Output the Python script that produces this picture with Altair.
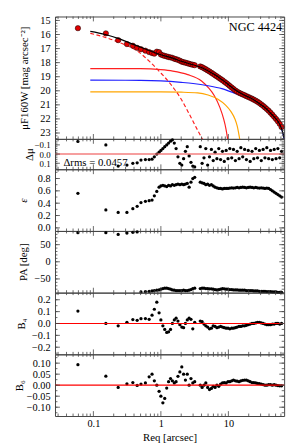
import altair as alt
import numpy as np
import pandas as pd

# ---- isophote radii (arcsec) and profiles ----
R = [0.059, 0.153, 0.233, 0.314, 0.384, 0.445, 0.507, 0.59, 0.67, 0.74, 0.80, 0.87, 0.94, 1.0,
     1.07, 1.14, 1.22, 1.30, 1.39, 1.48, 1.58, 1.68, 1.79, 1.91, 2.04, 2.17, 2.31, 2.46, 2.62,
     2.79, 2.97, 3.17, 3.83, 4.08, 4.35, 4.63, 4.93, 5.25, 5.6, 5.96, 6.35, 6.76, 7.2, 7.67,
     8.17, 8.7, 9.27, 9.87, 10.5, 11.2, 11.9, 12.7, 13.5, 14.4, 15.3, 16.3, 17.4, 18.5, 19.7,
     21.0, 22.4, 23.8, 25.4, 27.0, 28.8, 30.7, 32.7, 34.8, 37.1, 39.5, 42.1, 44.8, 47.7, 50.8,
     54.1, 57.6, 61.4]

MU = [15.55, 15.92, 16.40, 16.68, 16.80, 16.95, 17.05, 17.15, 17.25, 17.32, 17.36, 17.22, 17.25, 17.42,
      17.48, 17.52, 17.56, 17.60, 17.63, 17.66, 17.72, 17.76, 17.80, 17.86, 17.93, 17.97, 18.00, 18.04, 18.08,
      18.12, 18.15, 18.18, 18.27, 18.32, 18.40, 18.47, 18.55, 18.63, 18.72, 18.80, 18.90, 18.98, 19.07, 19.16,
      19.25, 19.35, 19.45, 19.55, 19.66, 19.77, 19.87, 19.98, 20.06, 20.14, 20.20, 20.26, 20.32, 20.38, 20.44,
      20.50, 20.56, 20.63, 20.70, 20.78, 20.87, 20.97, 21.07, 21.18, 21.30, 21.42, 21.56, 21.70, 21.85, 22.00,
      22.17, 22.35, 22.58]

DMU = [-0.137, -0.10, 0.13, 0.12, 0.10, 0.095, 0.065, 0.06, 0.06, 0.055, 0.03, 0.0, -0.02, -0.04,
       -0.06, -0.08, -0.10, -0.12, -0.14, -0.155, -0.12, -0.06, 0.03, 0.10, 0.12, 0.05, -0.03, -0.08, 0.02,
       0.09, 0.13, 0.14, -0.08, 0.10, 0.04, -0.06, 0.12, 0.03, -0.05, 0.07, -0.02, 0.05, -0.06, 0.06,
       -0.03, 0.08, -0.04, 0.05, -0.06, 0.04, -0.05, 0.07, -0.03, 0.05, -0.07, 0.03, -0.05, 0.06, -0.04,
       0.08, -0.03, 0.05, -0.06, 0.04, -0.04, 0.07, -0.05, 0.04, -0.07, 0.05, -0.04, 0.06, -0.05, 0.05,
       -0.06, 0.04, -0.03]

ELL = [0.56, 0.29, 0.25, 0.25, 0.31, 0.35, 0.41, 0.43, 0.44, 0.45, 0.52, 0.59, 0.66, 0.68,
       0.69, 0.68, 0.67, 0.69, 0.68, 0.70, 0.69, 0.70, 0.71, 0.70, 0.71, 0.70, 0.71, 0.72, 0.66,
       0.74, 0.80, 0.82, 0.74, 0.73, 0.72, 0.70, 0.71, 0.69, 0.70, 0.68, 0.66, 0.65, 0.64, 0.64,
       0.63, 0.64, 0.64, 0.64, 0.645, 0.65, 0.645, 0.65, 0.655, 0.65, 0.655, 0.66, 0.655, 0.65, 0.655,
       0.66, 0.655, 0.65, 0.655, 0.65, 0.645, 0.65, 0.645, 0.64, 0.645, 0.64, 0.62, 0.60, 0.58, 0.56,
       0.54, 0.52, 0.50]

PA = [85, 85, 80, 84, 86, 87, -88, -87, -86, -85, -84, -83, -82, -80,
      -78, -77, -77, -78, -80, -82, -83, -84, -84, -84, -84, -83, -84, -84, -83,
      -81, -78, -77, -78, -77, -77, -78, -78, -79, -79, -80, -81, -82, -81, -80,
      -78, -79, -80, -80, -81, -81, -82, -82, -82, -83, -83, -83, -83, -84, -84,
      -84, -84, -85, -85, -85, -86, -86, -86, -86, -87, -87, -87, -88, -88, -88,
      -89, -89, -89]

B4 = [0.105, 0.0, -0.02, 0.01, 0.033, 0.027, 0.04, 0.042, 0.035, 0.07, 0.12, 0.18, 0.09, 0.03,
      -0.02, -0.05, -0.075, -0.07, -0.05, 0.0, 0.03, 0.045, 0.02, -0.01, -0.03, -0.035, 0.0, 0.03, 0.045,
      0.035, -0.045, 0.01, 0.02, 0.015, -0.005, -0.02, -0.03, -0.045, -0.04, -0.02, -0.025, -0.035, -0.03, -0.025,
      -0.03, -0.035, -0.04, -0.04, -0.045, -0.04, -0.04, -0.035, -0.03, -0.025, -0.025, -0.02, -0.02, -0.015, -0.01,
      -0.005, 0.0, 0.0, 0.005, 0.01, 0.01, 0.005, 0.0, -0.005, -0.01, -0.01, -0.01, -0.005, -0.005, 0.0,
      0.0, -0.005, 0.0]

B6 = [0.093, 0.041, -0.01, 0.006, 0.012, -0.001, 0.005, 0.01, 0.038, 0.05, 0.02, 0.0, -0.028, -0.05,
      -0.08, -0.06, -0.013, 0.016, 0.03, 0.02, 0.01, 0.016, 0.04, 0.06, 0.083, 0.05, 0.023, 0.05, 0.0,
      0.03, 0.01, 0.016, 0.0, -0.01, 0.0, 0.01, -0.01, -0.02, -0.015, -0.005, -0.01, 0.0, -0.005, 0.005,
      0.01, 0.012, 0.01, 0.016, 0.016, 0.02, 0.023, 0.02, 0.018, 0.016, 0.02, 0.022, 0.023, 0.023, 0.02,
      0.016, 0.012, 0.012, 0.01, 0.008, 0.007, 0.005, 0.003, 0.0, 0.0, 0.002, 0.002, 0.0, 0.002, 0.0,
      -0.002, -0.003, -0.003]

# ---- model curves ----
MODEL_R = [0.09, 0.15, 0.25, 0.4, 0.6, 0.8, 1.0, 1.5, 2.0, 3.0, 4.0, 5.5, 7.0, 8.7, 11, 13.5, 17, 21,
           26, 30, 36, 41, 48, 57, 62, 68]
MODEL_MU = [15.78, 16.0, 16.33, 16.72, 17.05, 17.28, 17.44, 17.68, 17.9, 18.15, 18.35, 18.7, 19.0, 19.33,
            19.72, 20.03, 20.3, 20.5, 20.76, 20.97, 21.26, 21.53, 21.88, 22.34, 22.75, 23.5]
BULGE_R = [0.09, 0.15, 0.25, 0.44, 0.69, 0.96, 1.38, 2.0, 2.8, 3.5, 4.3]
BULGE_MU = [15.92, 16.2, 16.6, 17.15, 17.95, 18.65, 19.5, 20.6, 21.9, 22.8, 23.6]
BAR_R = [0.09, 0.5, 1.0, 1.5, 2.5, 4.0, 5.0, 6.2, 7.5, 8.5, 9.2, 9.8]
BAR_MU = [18.42, 18.43, 18.5, 18.6, 18.85, 19.3, 19.75, 20.35, 21.2, 22.0, 22.7, 23.5]
DISK_R = [0.09, 0.5, 1.0, 2.0, 3.0, 5.0, 8.0, 12.0, 16.0, 21.0, 30.0, 41.0, 57.0, 62, 68]
DISK_MU = [19.24, 19.26, 19.3, 19.4, 19.48, 19.64, 19.85, 20.15, 20.38, 20.56, 21.02, 21.57, 22.37, 22.78, 23.55]
LENS_R = [0.09, 1.0, 2.0, 3.5, 5.0, 7.0, 9.0, 11.0, 12.5, 13.5, 14.8]
LENS_MU = [20.08, 20.08, 20.1, 20.15, 20.3, 20.6, 21.0, 21.5, 22.0, 22.5, 23.5]

GALAXY = "NGC 4424"
RMS_LABEL = "Δrms = 0.0457"
RMS_POS = (0.036, 0.098)

# ---- layout / style ----
FONT = "Liberation Serif"
W = 234
H_TOP, H_D, H_S = 125, 31, 63
XDOM = [0.027, 67]
XMAJ = [0.1, 1, 10]
XMIN = [0.03, 0.04, 0.05, 0.06, 0.07, 0.08, 0.09, 0.2, 0.3, 0.4, 0.5, 0.6, 0.7, 0.8, 0.9,
        2, 3, 4, 5, 6, 7, 8, 9, 20, 30, 40, 50, 60]
FRAME = "#444444"


def make_x(bottom):
    sc = alt.Scale(type="log", domain=XDOM, nice=False)
    if bottom:
        ax = alt.Axis(values=XMAJ, format="~g", ticks=False, domain=False, grid=False,
                      labelFont=FONT, labelFontSize=10.5, labelColor="black", labelPadding=3,
                      labelFlush=False, labelOverlap=False,
                      title="Req [arcsec]", titleFont=FONT, titleFontSize=11,
                      titleFontWeight="normal", titleColor="black", titlePadding=2)
    else:
        ax = alt.Axis(labels=False, ticks=False, domain=False, grid=False, title=None)
    return alt.X("x:Q", scale=sc, axis=ax)


def make_y(dom, rev, title, values, fmt, tx, h, italic=False, lsize=10.5):
    kw = dict(title=title, values=values, format=fmt, ticks=False, domain=False, grid=False,
              labelFont=FONT, labelFontSize=lsize, labelColor="black", labelPadding=5,
              labelOverlap=False, labelFlush=False, titleFont=FONT, titleFontSize=11,
              titleFontWeight="normal", titleColor="black", titleX=tx, titleY=h / 2,
              titleAngle=270, titleAlign="center", titleBaseline="middle")
    if italic:
        kw["titleFontStyle"] = "italic"
    return alt.Y("y:Q", scale=alt.Scale(domain=dom, reverse=rev, nice=False, zero=False), axis=alt.Axis(**kw))


def tick_layers(X, Y, dom, h, ymaj, ymin):
    out = []
    lo, hi = min(dom), max(dom)
    for vals, L in ((XMAJ, 5), (XMIN, 2.5)):
        base = alt.Chart(pd.DataFrame({"x": vals})).mark_rule(color=FRAME, strokeWidth=0.8)
        out.append(base.encode(x=X, y=alt.value(h), y2=alt.value(h - L)))
        out.append(base.encode(x=X, y=alt.value(0), y2=alt.value(L)))
    for vals, L in ((ymaj, 5), (ymin, 2.5)):
        vals = [v for v in vals if lo <= v <= hi]
        base = alt.Chart(pd.DataFrame({"y": vals})).mark_rule(color=FRAME, strokeWidth=0.8)
        out.append(base.encode(y=Y, x=alt.value(0), x2=alt.value(L)))
        out.append(base.encode(y=Y, x=alt.value(W), x2=alt.value(W - L)))
    return out


def zero_line(Y, color, opacity=1.0, width=1.2):
    return alt.Chart(pd.DataFrame({"y": [0.0]})).mark_rule(
        color=color, opacity=opacity, strokeWidth=width).encode(y=Y)


def small_panel(vals, dom, rev, h, ymaj, ymin, fmt, title, tx, extra=None, bottom=False, italic=False,
                lsize=10.5):
    X = make_x(bottom)
    Y = make_y(dom, rev, title, ymaj, fmt, tx, h, italic, lsize)
    df = pd.DataFrame({"x": R, "y": vals})
    pts = alt.Chart(df).mark_circle(color="black", size=11, opacity=1).encode(x=X, y=Y)
    layers = [pts]
    if extra is not None:
        layers += [f(X, Y) for f in extra]
    layers = layers + tick_layers(X, Y, dom, h, ymaj, ymin)
    return alt.layer(*layers).properties(width=W, height=h)


# ---- top panel ----
TOP_DOM = [14.72, 23.42]
TOP_MAJ = list(range(15, 24))
XT = make_x(False)
YT = make_y(TOP_DOM, True, "μF160W [mag arcsec⁻²]", TOP_MAJ, "d", -31, H_TOP)


def curve(rr, mm, color, dash=None, width=1.2):
    kw = dict(color=color, strokeWidth=width, clip=True, interpolate="monotone")
    if dash:
        kw["strokeDash"] = dash
    return alt.Chart(pd.DataFrame({"x": rr, "y": mm})).mark_line(**kw).encode(x=XT, y=YT)


top_pts = alt.Chart(pd.DataFrame({"x": R, "y": MU})).mark_circle(
    color="#e00000", stroke="black", strokeWidth=0.5, size=30, opacity=1).encode(x=XT, y=YT)
label = alt.Chart(pd.DataFrame({"t": [GALAXY]})).mark_text(
    align="right", baseline="middle", font=FONT, fontSize=12.5, color="black").encode(
    text="t:N", x=alt.value(W - 2), y=alt.value(10.5))

top = alt.layer(
    curve(BAR_R, BAR_MU, "#ff2020"),
    curve(DISK_R, DISK_MU, "#1f1fff"),
    curve(LENS_R, LENS_MU, "#ffa500"),
    curve(BULGE_R, BULGE_MU, "#ff2020", dash=[4, 2.5]),
    top_pts,
    curve(MODEL_R, MODEL_MU, "black"),
    label,
    *tick_layers(XT, YT, TOP_DOM, H_TOP, TOP_MAJ, list(np.round(np.arange(14.8, 23.41, 0.2), 2)))
).properties(width=W, height=H_TOP)

# ---- residual panel ----
D_DOM = [-0.165, 0.165]


def rms_text(X, Y):
    return alt.Chart(pd.DataFrame({"x": [RMS_POS[0]], "y": [RMS_POS[1]], "t": [RMS_LABEL]})).mark_text(
        align="left", baseline="middle", font=FONT, fontSize=11, color="black").encode(x=X, y=Y, text="t:N")


dpanel = small_panel(DMU, D_DOM, True, H_D, [-0.1, 0.0, 0.1], list(np.round(np.arange(-0.16, 0.161, 0.02), 2)),
                     ".1f", "Δμ", -26,
                     extra=[lambda X, Y: zero_line(Y, "#f06060", 0.8, 1.5), rms_text], lsize=9)

E_DOM = [-0.05, 0.95]
epanel = small_panel(ELL, E_DOM, False, H_S, [0.0, 0.2, 0.4, 0.6, 0.8],
                     list(np.round(np.arange(0.0, 0.95, 0.1), 2)), ".1f", "ε", -32, italic=True)

P_DOM = [-90, 90]
ppanel = small_panel(PA, P_DOM, False, H_S, [-50, 0, 50], list(range(-80, 90, 10)), "d", "PA [deg]", -32)

B4_DOM = [-0.26, 0.26]
b4panel = small_panel(B4, B4_DOM, False, H_S, [-0.2, -0.1, 0.0, 0.1, 0.2],
                      list(np.round(np.arange(-0.25, 0.251, 0.05), 2)), ".1f", "B₄", -34,
                      extra=[lambda X, Y: zero_line(Y, "#ff0000")])

B6_DOM = [-0.14, 0.14]
b6panel = small_panel(B6, B6_DOM, False, H_S, [-0.1, -0.05, 0.0, 0.05, 0.1],
                      list(np.round(np.arange(-0.125, 0.126, 0.025), 3)), ".2f", "B₆", -36,
                      extra=[lambda X, Y: zero_line(Y, "#ff0000")], bottom=True)

chart = alt.vconcat(top, dpanel, epanel, ppanel, b4panel, b6panel, spacing=0, bounds="flush").configure_view(
    stroke=FRAME, strokeWidth=1).properties(padding={"left": 5, "top": 2, "right": 5, "bottom": 2})

chart.save("out.html", embed_options={"renderer": "svg", "actions": False})
